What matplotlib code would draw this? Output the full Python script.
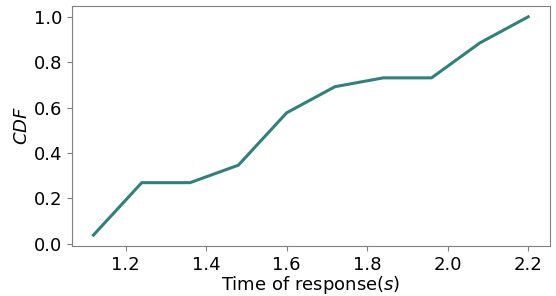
import matplotlib
matplotlib.use("Agg")
import matplotlib.pyplot as plt

# Tiempos de respuesta y CDF
tiempos = [1.12, 1.24, 1.36, 1.48, 1.60, 1.72, 1.84, 1.96, 2.08, 2.20]
cdf = [0.038, 0.269, 0.269, 0.346, 0.577, 0.692, 0.731, 0.731, 0.885, 1.0]

fig, ax = plt.subplots(figsize=(5.56, 2.96), dpi=100)
ax.plot(tiempos, cdf, color="#337f7b", linewidth=2.2)

ax.set_xlabel("Time of response($s$)", fontsize=13, labelpad=0)
ax.set_ylabel("$CDF$", fontsize=13, labelpad=2)
ax.tick_params(labelsize=13, color="#808080")
for s in ax.spines.values():
    s.set_color("#808080")

fig.subplots_adjust(left=0.129, right=0.989, top=0.98, bottom=0.169)
plt.savefig("out.png", dpi=100)
